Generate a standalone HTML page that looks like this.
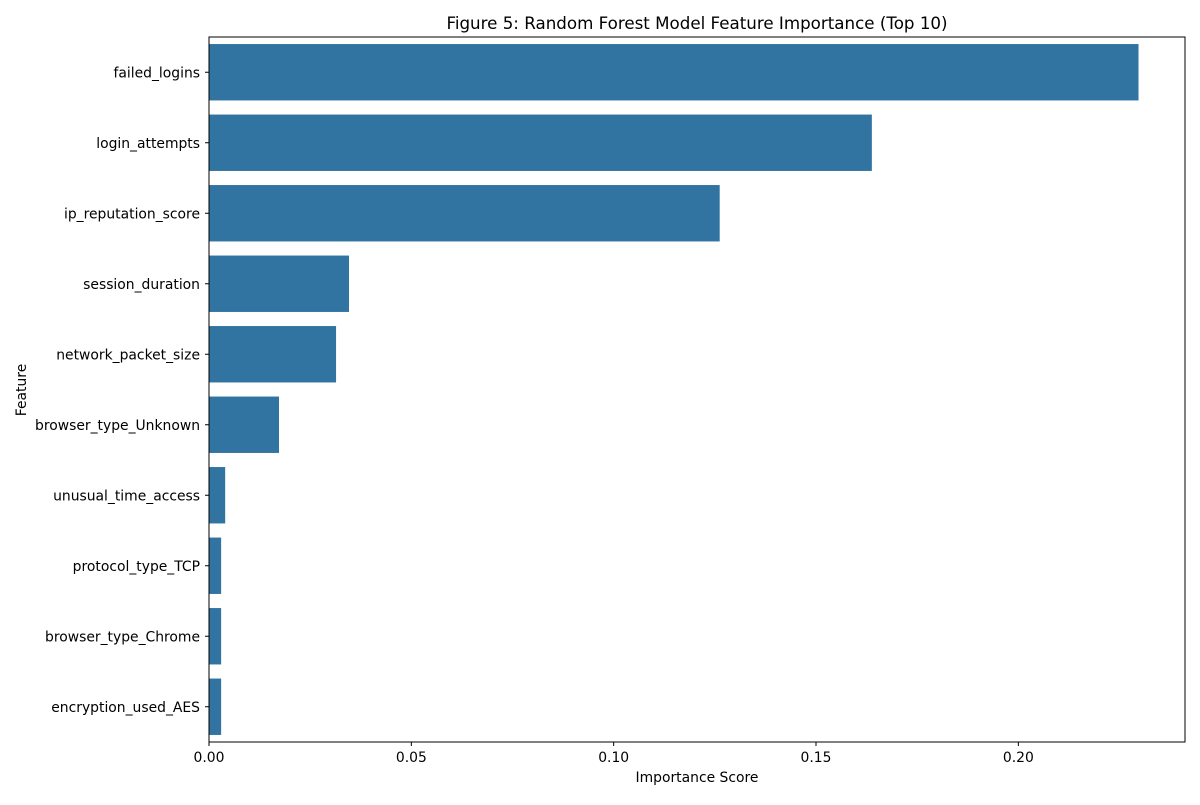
<!DOCTYPE html>
<html><head><meta charset="utf-8">
<style>
html,body{margin:0;padding:0;background:#fff;}
svg text{font-family:"DejaVu Sans","Liberation Sans",sans-serif;fill:#000;}
</style></head>
<body>
<svg id="chart" width="1200" height="800" xmlns="http://www.w3.org/2000/svg">
<text x="697" y="29" font-size="16.7" text-anchor="middle">Figure 5: Random Forest Model Feature Importance (Top 10)</text>
<g id="bars"></g>
<g id="yaxis"></g>
<g id="xaxis"></g>
<rect x="209" y="37" width="976" height="705" fill="none" stroke="#000" stroke-width="1"/>
<text x="697" y="782" font-size="13.9" text-anchor="middle">Importance Score</text>
<text x="26" y="390" font-size="13.9" text-anchor="middle" transform="rotate(-90 26 390)">Feature</text>
</svg>
<script>
const categories = ["failed_logins","login_attempts","ip_reputation_score","session_duration","network_packet_size","browser_type_Unknown","unusual_time_access","protocol_type_TCP","browser_type_Chrome","encryption_used_AES"];
const values = [0.2297,0.1638,0.1262,0.0346,0.0314,0.0173,0.0040,0.0030,0.0030,0.0030];
const xTicks = [0,0.05,0.10,0.15,0.20];
const xTickLabels = ["0.00","0.05","0.10","0.15","0.20"];

const NS="http://www.w3.org/2000/svg";
const L=209,R=1185,T=37,B=742;
const xMax=Math.max(...values)*1.05;
const xs=v=>L+(v/xMax)*(R-L);
const band=(B-T)/categories.length;
const yc=i=>T+band*(i+0.5);
const bars=document.getElementById('bars'),ya=document.getElementById('yaxis'),xa=document.getElementById('xaxis');
function mk(tag,attrs,parent){const e=document.createElementNS(NS,tag);for(const k in attrs)e.setAttribute(k,attrs[k]);parent.appendChild(e);return e;}
categories.forEach((c,i)=>{
  const r=mk('rect',{x:xs(0),y:yc(i)-band*0.4,width:xs(values[i])-xs(0),height:band*0.8,fill:'#3274a1'},bars);
  
  
  mk('line',{x1:L-4,x2:L,y1:yc(i),y2:yc(i),stroke:'#000'},ya);
  const t=mk('text',{x:L-9,y:yc(i)+5,'font-size':13.9,'text-anchor':'end'},ya);
  t.textContent=c;
  
  
});
xTicks.forEach((v,i)=>{
  mk('line',{x1:xs(v),x2:xs(v),y1:B,y2:B+4,stroke:'#000'},xa);
  const t=mk('text',{x:xs(v),y:B+20,'font-size':13.9,'text-anchor':'middle'},xa);
  t.textContent=xTickLabels[i];
  
  
});
</script>
</body></html>
